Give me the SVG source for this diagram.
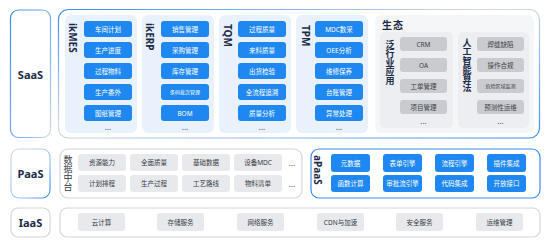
<svg xmlns="http://www.w3.org/2000/svg" width="554" height="240" viewBox="0 0 554 240">
<defs>
<linearGradient id="gBlueGray" x1="0" y1="0" x2="1" y2="1">
<stop offset="0" stop-color="#3a8bf0"/><stop offset="0.45" stop-color="#d6dbe3"/><stop offset="1" stop-color="#3a8bf0"/>
</linearGradient>
<linearGradient id="gSaaS" x1="0" y1="0" x2="1" y2="1">
<stop offset="0" stop-color="#3a8bf0"/><stop offset="0.7" stop-color="#8db8ee"/><stop offset="1" stop-color="#d6dbe3"/>
</linearGradient>
<linearGradient id="gPaaS" x1="0" y1="0" x2="1" y2="1">
<stop offset="0" stop-color="#d6dbe3"/><stop offset="0.6" stop-color="#9fc3ef"/><stop offset="1" stop-color="#3a8bf0"/>
</linearGradient>
<style>
text{font-family:"Noto Sans","Noto Sans CJK SC",sans-serif;}
.lbl{font-size:11px;font-weight:bold;fill:#1b2a47;text-anchor:middle;dominant-baseline:central;}
.vlat{font-size:10px;font-weight:bold;fill:#1b2a47;dominant-baseline:central;}
.vcn{font-size:9px;font-weight:bold;fill:#1b2a47;writing-mode:vertical-rl;}
.vcn2{font-size:9px;fill:#333a45;writing-mode:vertical-rl;}
.panel{fill:#e9f1fc;}
.btn{fill:#1f88f0;}
.bt{font-size:6.5px;fill:#ffffff;text-anchor:middle;dominant-baseline:central;}
.bts{font-size:5px;fill:#ffffff;text-anchor:middle;dominant-baseline:central;}
.gbtn{fill:#e8e9ec;}
.gt{font-size:6.5px;fill:#333a45;text-anchor:middle;dominant-baseline:central;}
.dbtn{fill:#c9cbcf;}
.dt{font-size:6.5px;fill:#3a3f48;text-anchor:middle;dominant-baseline:central;}
.dts{font-size:5px;fill:#3a3f48;text-anchor:middle;dominant-baseline:central;}
.dots{font-size:8px;fill:#444b55;text-anchor:middle;}
.box{fill:#ffffff;stroke-width:1.2;}
</style>
</defs>
<rect width="554" height="240" fill="#ffffff"/>

<g id="saas-label">
<rect class="box" x="10.5" y="10" width="40" height="127.5" rx="8" stroke="url(#gSaaS)"/>
<text class="lbl" x="30.5" y="74">SaaS</text>
</g>
<g id="saas-container">
<rect class="box" x="58.5" y="9.5" width="481" height="128.5" rx="10" stroke="url(#gBlueGray)"/>
</g>

<g id="ikmes">
<rect class="panel" x="65" y="15" width="72" height="118" rx="6"/>
<text class="vlat" transform="translate(73,23) rotate(90)">ikMES</text>
<rect class="btn" x="84" y="21" width="48" height="16" rx="3"/><text class="bt" x="108" y="29">车间计划</text>
<rect class="btn" x="84" y="42" width="48" height="16" rx="3"/><text class="bt" x="108" y="50">生产进度</text>
<rect class="btn" x="84" y="63" width="48" height="16" rx="3"/><text class="bt" x="108" y="71">过程物料</text>
<rect class="btn" x="84" y="84" width="48" height="16" rx="3"/><text class="bt" x="108" y="92">生产委外</text>
<rect class="btn" x="84" y="105" width="48" height="16" rx="3"/><text class="bt" x="108" y="113">图纸管理</text>
<text class="dots" x="108" y="130">...</text>
</g>

<g id="ikerp">
<rect class="panel" x="142" y="15" width="72" height="118" rx="6"/>
<text class="vlat" transform="translate(150,23) rotate(90)">ikERP</text>
<rect class="btn" x="161" y="21" width="48" height="16" rx="3"/><text class="bt" x="185" y="29">销售管理</text>
<rect class="btn" x="161" y="42" width="48" height="16" rx="3"/><text class="bt" x="185" y="50">采购管理</text>
<rect class="btn" x="161" y="63" width="48" height="16" rx="3"/><text class="bt" x="185" y="71">库存管理</text>
<rect class="btn" x="161" y="84" width="48" height="16" rx="3"/><text class="bts" x="185" y="92">条码批次管理</text>
<rect class="btn" x="161" y="105" width="48" height="16" rx="3"/><text class="bt" x="185" y="113">BOM</text>
<text class="dots" x="185" y="130">...</text>
</g>

<g id="tqm">
<rect class="panel" x="219" y="15" width="72" height="118" rx="6"/>
<text class="vlat" transform="translate(228,24) rotate(90)">TQM</text>
<rect class="btn" x="238" y="21" width="48" height="16" rx="3"/><text class="bt" x="262" y="29">过程质量</text>
<rect class="btn" x="238" y="42" width="48" height="16" rx="3"/><text class="bt" x="262" y="50">来料质量</text>
<rect class="btn" x="238" y="63" width="48" height="16" rx="3"/><text class="bt" x="262" y="71">出货检验</text>
<rect class="btn" x="238" y="84" width="48" height="16" rx="3"/><text class="bt" x="262" y="92">全流程追溯</text>
<rect class="btn" x="238" y="105" width="48" height="16" rx="3"/><text class="bt" x="262" y="113">质量分析</text>
<text class="dots" x="262" y="130">...</text>
</g>

<g id="tpm">
<rect class="panel" x="296" y="15" width="72" height="118" rx="6"/>
<text class="vlat" transform="translate(306,25) rotate(90)">TPM</text>
<rect class="btn" x="315" y="21" width="48" height="16" rx="3"/><text class="bt" x="339" y="29">MDC数采</text>
<rect class="btn" x="315" y="42" width="48" height="16" rx="3"/><text class="bt" x="339" y="50">OEE分析</text>
<rect class="btn" x="315" y="63" width="48" height="16" rx="3"/><text class="bt" x="339" y="71">维修保养</text>
<rect class="btn" x="315" y="84" width="48" height="16" rx="3"/><text class="bt" x="339" y="92">台账管理</text>
<rect class="btn" x="315" y="105" width="48" height="16" rx="3"/><text class="bt" x="339" y="113">异常处理</text>
<text class="dots" x="339" y="130">...</text>
</g>

<g id="eco">
<rect x="375" y="15" width="159" height="118" rx="6" fill="#f5f6f8"/>
<text x="382" y="29" style="font-size:10px;font-weight:bold;fill:#1b2a47;letter-spacing:1px">生态</text>
</g>

<g id="industry-apps">
<rect x="380" y="32" width="73" height="96" rx="5" fill="#eceef1"/>
<text class="vcn" x="390" y="40">泛行业应用</text>
<rect class="dbtn" x="400" y="37" width="47" height="14" rx="3"/><text class="dt" x="423.5" y="44">CRM</text>
<rect class="dbtn" x="400" y="58" width="47" height="14" rx="3"/><text class="dt" x="423.5" y="65">OA</text>
<rect class="dbtn" x="400" y="79" width="47" height="14" rx="3"/><text class="dt" x="423.5" y="86">工单管理</text>
<rect class="dbtn" x="400" y="100" width="47" height="14" rx="3"/><text class="dt" x="423.5" y="107">项目管理</text>
<text class="dots" x="423.5" y="124">...</text>
</g>

<g id="ai-algorithms">
<rect x="458" y="32" width="71" height="96" rx="5" fill="#eceef1"/>
<text class="vcn" x="467" y="38">人工智能算法</text>
<rect class="dbtn" x="477" y="37" width="47" height="14" rx="3"/><text class="dt" x="500.5" y="44">焊缝缺陷</text>
<rect class="dbtn" x="477" y="58" width="47" height="14" rx="3"/><text class="dt" x="500.5" y="65">操作合规</text>
<rect class="dbtn" x="477" y="79" width="47" height="14" rx="3"/><text class="dts" x="500.5" y="86">危险区域监测</text>
<rect class="dbtn" x="477" y="100" width="47" height="14" rx="3"/><text class="dt" x="500.5" y="107">预测性运维</text>
<text class="dots" x="500.5" y="124">...</text>
</g>

<g id="paas-label">
<rect class="box" x="11" y="149" width="39" height="49" rx="8" stroke="url(#gPaaS)"/>
<text class="lbl" x="30.5" y="173.5">PaaS</text>
</g>

<g id="data-platform">
<rect class="box" x="60" y="149" width="242" height="49" rx="8" stroke="#d3d6db"/>
<text class="vcn2" x="68" y="155">数据中台</text>
<rect class="gbtn" x="78" y="154" width="48" height="17" rx="3"/><text class="gt" x="102" y="162.5">资源能力</text>
<rect class="gbtn" x="130" y="154" width="48" height="17" rx="3"/><text class="gt" x="154" y="162.5">全面质量</text>
<rect class="gbtn" x="182" y="154" width="48" height="17" rx="3"/><text class="gt" x="206" y="162.5">基础数据</text>
<rect class="gbtn" x="234" y="154" width="48" height="17" rx="3"/><text class="gt" x="258" y="162.5">设备MDC</text>
<text class="dots" x="292" y="166">...</text>
<rect class="gbtn" x="78" y="175" width="48" height="17" rx="3"/><text class="gt" x="102" y="183.5">计划排程</text>
<rect class="gbtn" x="130" y="175" width="48" height="17" rx="3"/><text class="gt" x="154" y="183.5">生产过程</text>
<rect class="gbtn" x="182" y="175" width="48" height="17" rx="3"/><text class="gt" x="206" y="183.5">工艺路线</text>
<rect class="gbtn" x="234" y="175" width="48" height="17" rx="3"/><text class="gt" x="258" y="183.5">物料清单</text>
<text class="dots" x="292" y="187">...</text>
</g>

<g id="apaas">
<rect class="box" x="311" y="149" width="229" height="49" rx="8" stroke="#3a8bf0"/>
<text class="vlat" transform="translate(318,155) rotate(90)">aPaaS</text>
<rect class="btn" x="331" y="154" width="39" height="18" rx="3"/><text class="bt" x="350.5" y="163">元数据</text>
<rect class="btn" x="383" y="154" width="39" height="18" rx="3"/><text class="bt" x="402.5" y="163">表单引擎</text>
<rect class="btn" x="435" y="154" width="39" height="18" rx="3"/><text class="bt" x="454.5" y="163">流程引擎</text>
<rect class="btn" x="487" y="154" width="39" height="18" rx="3"/><text class="bt" x="506.5" y="163">插件集成</text>
<rect class="btn" x="331" y="175" width="39" height="17" rx="3"/><text class="bt" x="350.5" y="183.5">函数计算</text>
<rect class="btn" x="383" y="175" width="39" height="17" rx="3"/><text class="bt" x="402.5" y="183.5">审批流引擎</text>
<rect class="btn" x="435" y="175" width="39" height="17" rx="3"/><text class="bt" x="454.5" y="183.5">代码集成</text>
<rect class="btn" x="487" y="175" width="39" height="17" rx="3"/><text class="bt" x="506.5" y="183.5">开放接口</text>
</g>

<g id="iaas-label">
<rect class="box" x="11" y="208" width="39" height="29" rx="7" stroke="#d3d6db"/>
<text class="lbl" x="30.5" y="222.5">IaaS</text>
</g>

<g id="iaas">
<rect class="box" x="60" y="208" width="480" height="29" rx="7" stroke="#d3d6db"/>
<rect class="gbtn" x="78" y="213" width="47" height="18" rx="3"/><text class="gt" x="101.5" y="222">云计算</text>
<rect class="gbtn" x="157" y="213" width="47" height="18" rx="3"/><text class="gt" x="180.5" y="222">存储服务</text>
<rect class="gbtn" x="237" y="213" width="47" height="18" rx="3"/><text class="gt" x="260.5" y="222">网络服务</text>
<rect class="gbtn" x="317" y="213" width="47" height="18" rx="3"/><text class="gt" x="340.5" y="222">CDN与加速</text>
<rect class="gbtn" x="396" y="213" width="47" height="18" rx="3"/><text class="gt" x="419.5" y="222">安全服务</text>
<rect class="gbtn" x="476" y="213" width="47" height="18" rx="3"/><text class="gt" x="499.5" y="222">运维管理</text>
</g>
</svg>
